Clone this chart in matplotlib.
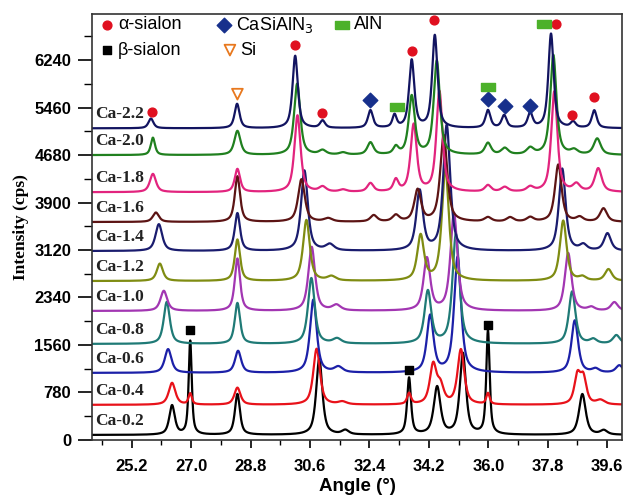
import numpy as np
import matplotlib
matplotlib.use("Agg")
import matplotlib.pyplot as plt

# samples, bottom to top
samples = ["Ca-0.2", "Ca-0.4", "Ca-0.6", "Ca-0.8", "Ca-1.0", "Ca-1.2",
           "Ca-1.4", "Ca-1.6", "Ca-1.8", "Ca-2.0", "Ca-2.2"]
colors = ["#000000", "#e8121a", "#1c20a8", "#1f7a76", "#a236b2", "#7f8c12",
          "#1a1c6e", "#5c1414", "#e2247e", "#20801f", "#121460"]
baselines = [80, 575, 1100, 1576, 2118, 2610, 3103, 3580, 4070, 4680, 5120]

# peak tables: (angle, height above baseline, fwhm)
peaks = {
    "Ca-0.2": [(26.42, 480, 0.20), (26.97, 1540, 0.11), (28.40, 670, 0.18),
               (30.88, 1250, 0.22), (31.67, 70, 0.25), (33.60, 930, 0.14),
               (34.45, 780, 0.24), (35.23, 1330, 0.22), (35.99, 1700, 0.12),
               (38.85, 670, 0.24), (39.50, 70, 0.25)],
    "Ca-0.4": [(26.42, 360, 0.24), (26.97, 180, 0.12), (28.40, 280, 0.22),
               (30.80, 920, 0.24), (31.58, 45, 0.30), (33.60, 180, 0.14),
               (34.33, 640, 0.24), (34.55, 280, 0.24), (35.17, 900, 0.24),
               (35.99, 180, 0.12), (38.70, 460, 0.22), (38.88, 420, 0.22),
               (39.40, 70, 0.30)],
    "Ca-0.6": [(26.30, 390, 0.24), (28.42, 360, 0.22), (30.70, 1200, 0.24),
               (31.46, 90, 0.30), (34.24, 930, 0.24), (35.07, 1900, 0.25),
               (38.62, 860, 0.24), (39.25, 60, 0.25), (39.97, 120, 0.25)],
    "Ca-0.8": [(26.26, 690, 0.22), (28.40, 670, 0.19), (30.64, 1080, 0.24),
               (31.42, 80, 0.30), (34.17, 860, 0.24), (35.02, 1800, 0.25),
               (38.54, 860, 0.24), (39.18, 70, 0.25), (39.88, 140, 0.25)],
    "Ca-1.0": [(26.17, 330, 0.24), (28.40, 860, 0.19), (30.65, 1050, 0.24),
               (31.40, 90, 0.30), (34.14, 860, 0.24), (34.96, 1600, 0.25),
               (38.42, 950, 0.24), (39.12, 55, 0.25), (39.82, 140, 0.25)],
    "Ca-1.2": [(26.05, 285, 0.22), (28.40, 680, 0.19), (30.49, 1000, 0.24),
               (31.25, 70, 0.30), (33.95, 740, 0.24), (34.70, 1830, 0.25),
               (38.27, 990, 0.24), (38.85, 60, 0.25), (39.64, 190, 0.25)],
    "Ca-1.4": [(26.02, 440, 0.24), (28.40, 620, 0.19), (30.43, 1320, 0.24),
               (31.20, 100, 0.30), (33.92, 980, 0.24), (34.74, 2060, 0.25),
               (38.24, 1350, 0.24), (38.88, 90, 0.25), (39.61, 285, 0.25)],
    "Ca-1.6": [(25.93, 155, 0.22), (28.40, 750, 0.19), (30.34, 700, 0.24),
               (31.15, 55, 0.30), (32.53, 105, 0.24), (33.20, 105, 0.24),
               (33.86, 520, 0.24), (34.65, 1420, 0.25), (35.99, 70, 0.25),
               (36.66, 70, 0.25), (37.27, 70, 0.25), (38.12, 940, 0.24),
               (38.77, 70, 0.25), (39.49, 220, 0.25)],
    "Ca-1.8": [(25.84, 300, 0.22), (28.40, 380, 0.19), (30.22, 1260, 0.22),
               (30.98, 80, 0.25), (31.60, 35, 0.25), (32.43, 140, 0.22),
               (33.20, 190, 0.18), (33.74, 1100, 0.22), (34.52, 1650, 0.22),
               (35.99, 105, 0.22), (36.50, 75, 0.25), (37.27, 75, 0.25),
               (38.00, 1650, 0.22), (38.67, 120, 0.25), (39.33, 385, 0.25)],
    "Ca-2.0": [(25.84, 285, 0.15), (28.40, 395, 0.22), (30.21, 1170, 0.22),
               (30.98, 70, 0.25), (31.60, 35, 0.25), (32.43, 200, 0.22),
               (33.20, 120, 0.18), (33.68, 960, 0.22), (34.44, 1540, 0.22),
               (35.99, 190, 0.22), (36.50, 105, 0.25), (37.27, 105, 0.25),
               (37.97, 1640, 0.22), (38.60, 70, 0.25), (39.30, 265, 0.25)],
    "Ca-2.2": [(25.78, 160, 0.18), (28.39, 400, 0.18), (30.15, 1190, 0.19),
               (30.98, 120, 0.18), (32.43, 290, 0.18), (33.16, 205, 0.15),
               (33.68, 1110, 0.19), (34.38, 1520, 0.19), (35.99, 290, 0.18),
               (36.48, 205, 0.18), (37.27, 240, 0.18), (37.90, 1550, 0.19),
               (38.57, 95, 0.18), (39.21, 290, 0.18)],
}

# phase markers (angle, intensity)
alpha_pos = [25.80, 30.15, 30.95, 33.68, 34.35, 38.06, 38.54, 39.21]
alpha_int = [5386, 6486, 5370, 6388, 6896, 6830, 5337, 5632]
beta_pos = [26.96, 33.59, 35.99]
beta_int = [1806, 1150, 1888]
casialn_pos = [32.43, 35.99, 36.51, 37.27]
casialn_int = [5583, 5599, 5484, 5484]
aln_pos = [33.22, 35.99, 37.69]
aln_int = [5468, 5796, 6830]
si_pos = [28.40]
si_int = [5681]

xticks = [25.2, 27.0, 28.8, 30.6, 32.4, 34.2, 36.0, 37.8, 39.6]
yticks = [0, 780, 1560, 2340, 3120, 3900, 4680, 5460, 6240]


def profile(x, pos, h, w, eta=0.7):
    g = np.exp(-4 * np.log(2) * ((x - pos) / w) ** 2)
    l = 1.0 / (1.0 + 4 * ((x - pos) / w) ** 2)
    return h * (eta * l + (1 - eta) * g)


sans = ["Liberation Sans", "DejaVu Sans"]
serif = ["Liberation Serif", "DejaVu Serif"]

fig = plt.figure(figsize=(6.27, 4.97), dpi=100)
ax = fig.add_axes([0.147, 0.115, 0.845, 0.857])

x = np.linspace(24.0, 40.1, 4000)
for name, col, base in zip(samples, colors, baselines):
    y = np.full_like(x, float(base))
    for pos, h, w in peaks[name]:
        y += profile(x, pos, h, w)
    ax.plot(x, y, color=col, lw=1.6)
    ax.text(24.1, base + 235, name, fontsize=12.5, fontweight="bold",
            family=serif, va="center", ha="left", color="#222222")

rect = [(-1, -0.55), (1, -0.55), (1, 0.55), (-1, 0.55), (-1, -0.55)]
ax.scatter(alpha_pos, alpha_int, s=40, marker="o", color="#e01020", zorder=5)
ax.scatter(beta_pos, beta_int, s=36, marker="s", color="black", zorder=5)
ax.scatter(casialn_pos, casialn_int, s=55, marker="D", color="#17308c", zorder=5)
ax.scatter(aln_pos, aln_int, s=100, marker=rect, color="#4cb12a", zorder=5)
ax.scatter(si_pos, si_int, s=60, marker="v", facecolor="none",
           edgecolor="#e8781e", linewidth=1.3, zorder=5)

# key at the top left
tr = ax.transAxes
ax.scatter([0.028], [0.974], s=40, marker="o", color="#e01020", transform=tr)
ax.scatter([0.028], [0.915], s=36, marker="s", color="black", transform=tr)
ax.scatter([0.249], [0.974], s=55, marker="D", color="#17308c", transform=tr)
ax.scatter([0.260], [0.915], s=60, marker="v", facecolor="none",
           edgecolor="#e8781e", linewidth=1.3, transform=tr)
ax.scatter([0.472], [0.974], s=100, marker=rect, color="#4cb12a", transform=tr)
kw = dict(transform=tr, fontsize=13, family=sans, va="center", ha="left")
ax.text(0.049, 0.974, "α-sialon", **kw)
ax.text(0.049, 0.915, "β-sialon", **kw)
ax.text(0.272, 0.974, "CaSiAlN$_3$", **kw)
ax.text(0.279, 0.915, "Si", **kw)
ax.text(0.494, 0.974, "AlN", **kw)

ax.set_xlim(24.0, 40.05)
ax.set_ylim(0, 7000)
ax.set_xticks(xticks)
ax.set_xticks(np.arange(24.3, 40.0, 0.9), minor=True)
ax.set_yticks(yticks)
ax.set_yticks(np.arange(390, 7000, 780), minor=True)
ax.set_xticklabels([f"{t:.1f}" for t in xticks])
ax.tick_params(axis="x", which="major", direction="out", length=6, width=1.2, pad=8)
ax.tick_params(axis="x", which="minor", direction="out", length=3.5, width=1.0)
ax.tick_params(axis="y", which="major", direction="out", length=10, width=1.2, pad=5)
ax.tick_params(axis="y", which="minor", direction="out", length=6, width=1.0)
for lab in ax.get_xticklabels() + ax.get_yticklabels():
    lab.set_fontweight("bold")
    lab.set_fontsize(12)
    lab.set_family(sans)
for sp in ax.spines.values():
    sp.set_linewidth(1.2)
    sp.set_color("#333333")

ax.set_xlabel("Angle (°)", fontsize=13.5, fontweight="bold", family=sans, labelpad=3)
ax.set_ylabel("Intensity (cps)", fontsize=12.5, fontweight="bold", family=serif,
              labelpad=4)

fig.savefig("out.png", dpi=100)
